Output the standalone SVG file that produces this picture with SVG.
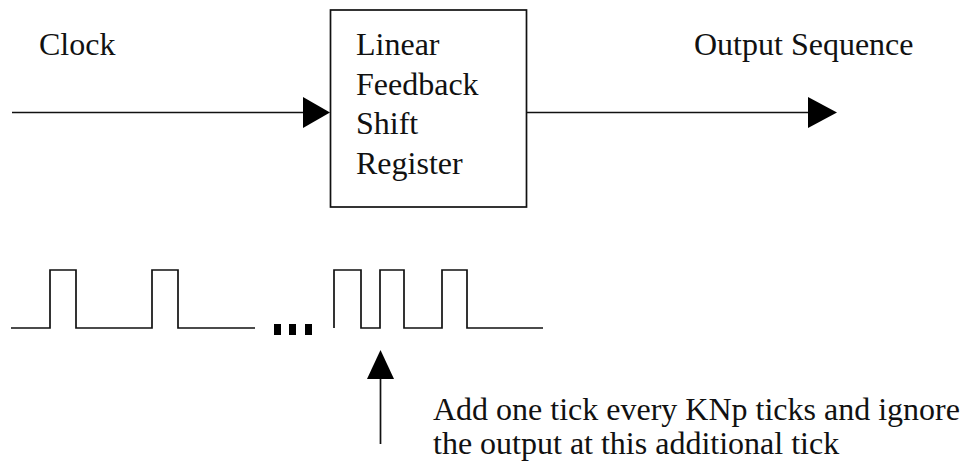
<svg xmlns="http://www.w3.org/2000/svg" width="969" height="468" viewBox="0 0 969 468">
<style>
text { font-family: "Liberation Serif", "Times New Roman", serif; font-size: 32px; fill: #111; }
.ln { fill: none; stroke: #111; stroke-width: 1.7; }
.head { fill: #000; stroke: none; }
</style>
<rect width="969" height="468" fill="#fff"/>
<g id="clock-label"><text x="39" y="55">Clock</text></g>
<g id="lfsr">
  <rect class="ln" x="330.5" y="10" width="196" height="197"/>
  <text x="356" y="55">Linear</text>
  <text x="356" y="95">Feedback</text>
  <text x="356" y="134">Shift</text>
  <text x="356" y="174">Register</text>
</g>
<g id="output-label"><text x="694" y="55">Output Sequence</text></g>
<g id="waveform">
  <polyline class="ln" points="11,328 50,328 50,270 76,270 76,328 152,328 152,270 178,270 178,328 255,328"/>
  <rect class="head" x="274" y="324" width="7" height="11"/>
  <rect class="head" x="289" y="324" width="7" height="11"/>
  <rect class="head" x="305" y="324" width="7" height="11"/>
  <polyline class="ln" points="334,328 334,270 361,270 361,328 380,328 380,270 404,270 404,328 442,328 442,270 467,270 467,328 543,328"/>
</g>
<g id="note">
  <text x="433" y="420">Add one tick every KNp ticks and ignore</text>
  <text x="433" y="454">the output at this additional tick</text>
</g>
<g id="connectors">
  <line class="ln" x1="12" y1="112.5" x2="305" y2="112.5"/>
  <polygon class="head" points="303,97 330,112.5 303,128"/>
  <line class="ln" x1="527" y1="112.5" x2="810" y2="112.5"/>
  <polygon class="head" points="808,97 837,112.5 808,128"/>
  <line class="ln" x1="380.5" y1="444" x2="380.5" y2="376"/>
  <polygon class="head" points="380.5,350 367,379 394,379"/>
</g>
</svg>
